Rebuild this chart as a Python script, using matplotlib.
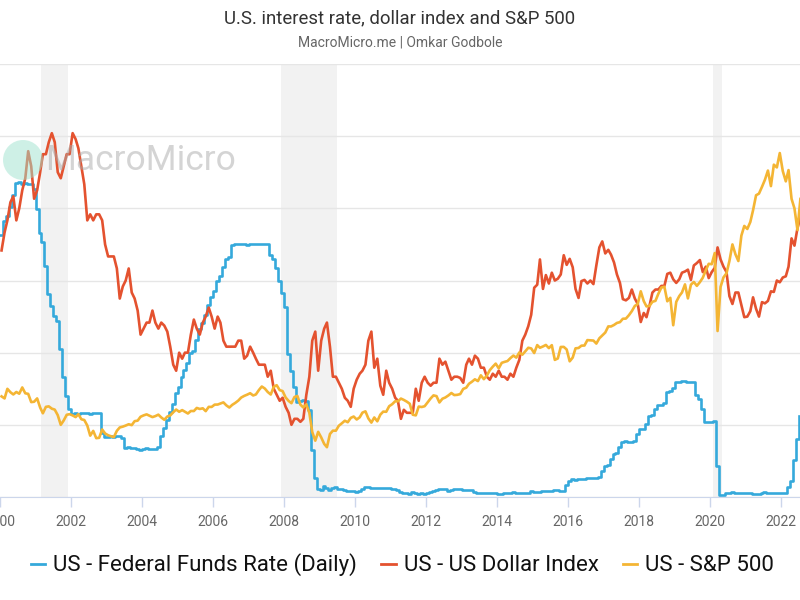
import pandas as pd
import matplotlib.pyplot as plt
import matplotlib.dates as mdates
from matplotlib.patches import Ellipse
from matplotlib.lines import Line2D

fed_color = '#35a9db'
dxy_color = '#e4522f'
spx_color = '#f4b534'
grid_color = '#e6e6e6'

# monthly values, Jan 2000 .. Jul 2022
fed_rate = [
    5.45, 5.73, 5.85, 6.02, 6.27, 6.53, 6.54, 6.50, 6.52, 6.51, 6.51, 6.40,
    5.98, 5.49, 5.31, 4.80, 4.21, 3.97, 3.77, 3.65, 3.07, 2.49, 2.09, 1.82,
    1.73, 1.74, 1.73, 1.75, 1.75, 1.75, 1.73, 1.74, 1.75, 1.75, 1.34, 1.24,
    1.24, 1.26, 1.25, 1.26, 1.26, 1.22, 1.01, 1.03, 1.01, 1.01, 1.00, 0.98,
    1.00, 1.01, 1.00, 1.00, 1.00, 1.03, 1.26, 1.43, 1.61, 1.76, 1.93, 2.16,
    2.28, 2.50, 2.63, 2.79, 3.00, 3.04, 3.26, 3.50, 3.62, 3.78, 4.00, 4.16,
    4.29, 4.49, 4.59, 4.79, 4.94, 4.99, 5.24, 5.25, 5.25, 5.25, 5.25, 5.24,
    5.25, 5.26, 5.26, 5.25, 5.25, 5.25, 5.26, 5.02, 4.94, 4.76, 4.49, 4.24,
    3.94, 2.98, 2.61, 2.28, 1.98, 2.00, 2.01, 2.00, 1.81, 0.97, 0.39, 0.16,
    0.15, 0.22, 0.18, 0.15, 0.18, 0.21, 0.16, 0.16, 0.15, 0.12, 0.12, 0.12,
    0.11, 0.13, 0.16, 0.20, 0.20, 0.18, 0.18, 0.19, 0.19, 0.19, 0.19, 0.18,
    0.17, 0.16, 0.14, 0.10, 0.09, 0.09, 0.07, 0.10, 0.08, 0.07, 0.08, 0.07,
    0.08, 0.10, 0.13, 0.14, 0.16, 0.16, 0.16, 0.13, 0.14, 0.16, 0.16, 0.16,
    0.14, 0.15, 0.14, 0.15, 0.11, 0.09, 0.09, 0.08, 0.08, 0.09, 0.08, 0.09,
    0.07, 0.07, 0.08, 0.09, 0.09, 0.10, 0.09, 0.09, 0.09, 0.09, 0.09, 0.12,
    0.11, 0.11, 0.11, 0.12, 0.12, 0.13, 0.13, 0.14, 0.14, 0.12, 0.12, 0.24,
    0.34, 0.38, 0.36, 0.37, 0.37, 0.38, 0.39, 0.40, 0.40, 0.40, 0.41, 0.54,
    0.65, 0.66, 0.79, 0.90, 0.91, 1.04, 1.15, 1.16, 1.15, 1.15, 1.16, 1.30,
    1.41, 1.42, 1.51, 1.69, 1.70, 1.82, 1.91, 1.91, 1.95, 2.19, 2.20, 2.27,
    2.40, 2.40, 2.41, 2.42, 2.39, 2.38, 2.40, 2.13, 2.04, 1.83, 1.55, 1.55,
    1.55, 1.58, 0.65, 0.05, 0.05, 0.08, 0.09, 0.10, 0.09, 0.09, 0.09, 0.09,
    0.09, 0.08, 0.07, 0.07, 0.06, 0.08, 0.10, 0.09, 0.08, 0.08, 0.08, 0.08,
    0.08, 0.08, 0.20, 0.33, 0.77, 1.21, 1.68,
]

dollar_index = [
    101.0, 104.0, 106.0, 109.0, 110.0, 106.0, 108.0, 111.0, 113.0, 117.5, 115.0, 109.6,
    111.0, 114.0, 117.0, 117.0, 119.0, 120.5, 119.0, 114.0, 113.0, 115.0, 117.0, 117.0,
    120.5, 119.5, 118.0, 115.0, 112.0, 106.0, 107.0, 106.0, 107.0, 107.0, 106.0, 102.0,
    100.0, 100.0, 100.0, 98.0, 93.0, 95.0, 96.0, 98.0, 94.0, 93.0, 91.0, 87.0,
    88.0, 89.0, 89.0, 91.0, 89.0, 88.0, 89.0, 88.5, 87.5, 85.0, 82.0, 81.0,
    84.0, 83.0, 84.0, 84.0, 87.0, 89.5, 88.0, 87.0, 89.0, 90.0, 91.5, 90.0,
    88.0, 90.0, 89.0, 86.0, 85.0, 85.0, 85.0, 85.0, 86.0, 86.0, 83.0, 83.5,
    85.0, 84.0, 83.0, 82.0, 82.0, 82.0, 80.0, 81.0, 78.0, 77.0, 76.0, 76.5,
    75.0, 74.0, 72.0, 73.0, 73.0, 72.5, 73.0, 77.0, 80.0, 86.0, 87.5, 81.0,
    86.0, 88.0, 89.0, 85.0, 80.0, 80.0, 79.0, 78.0, 76.5, 76.0, 75.0, 78.0,
    79.5, 80.5, 81.0, 82.0, 86.0, 87.5, 81.5, 83.0, 78.5, 77.0, 81.0, 79.0,
    78.0, 76.5, 76.0, 73.0, 74.5, 74.0, 74.0, 74.0, 78.0, 76.0, 79.0, 80.0,
    79.0, 78.5, 79.0, 79.0, 83.0, 82.0, 82.5, 81.0, 79.5, 80.0, 80.0, 79.8,
    79.0, 82.0, 83.0, 82.0, 83.5, 83.0, 81.5, 81.5, 80.0, 79.5, 80.5, 80.0,
    81.0, 80.0, 80.0, 79.5, 80.5, 80.0, 81.5, 82.8, 86.0, 87.0, 88.4, 90.3,
    94.8, 95.3, 99.5, 94.6, 96.9, 95.5, 97.3, 96.0, 96.3, 97.0, 100.2, 98.6,
    99.6, 98.2, 94.6, 93.1, 95.9, 96.1, 95.5, 96.0, 95.4, 98.5, 101.5, 102.5,
    100.5, 101.1, 100.3, 99.0, 97.0, 95.6, 92.9, 92.7, 93.1, 94.5, 93.0, 92.1,
    89.1, 90.6, 89.9, 91.8, 94.0, 94.5, 94.5, 95.1, 95.1, 97.1, 97.3, 96.2,
    95.6, 96.2, 97.3, 97.5, 97.8, 96.1, 98.5, 98.9, 99.4, 97.4, 98.3, 96.4,
    97.4, 98.1, 101.5, 99.5, 98.3, 97.4, 93.4, 92.1, 94.0, 94.0, 91.9, 89.9,
    90.0, 90.9, 93.2, 91.3, 90.0, 92.4, 92.2, 92.6, 94.2, 94.1, 96.0, 95.7,
    96.5, 96.7, 98.3, 103.0, 101.8, 104.7, 106.5,
]

sp500 = [
    1394, 1366, 1499, 1452, 1421, 1455, 1431, 1518, 1437, 1429, 1315, 1320,
    1366, 1240, 1160, 1249, 1256, 1224, 1211, 1134, 1000, 1060, 1139, 1148,
    1130, 1107, 1147, 1077, 1067, 990, 850, 916, 815, 820, 936, 880,
    856, 841, 830, 917, 964, 975, 990, 1008, 996, 1051, 1058, 1112,
    1131, 1145, 1126, 1107, 1121, 1141, 1102, 1070, 1115, 1130, 1174, 1212,
    1181, 1204, 1181, 1157, 1192, 1191, 1234, 1220, 1229, 1190, 1249, 1248,
    1280, 1281, 1295, 1311, 1270, 1240, 1277, 1304, 1336, 1378, 1401, 1418,
    1438, 1407, 1421, 1482, 1531, 1503, 1455, 1420, 1527, 1549, 1481, 1468,
    1379, 1331, 1300, 1386, 1400, 1280, 1240, 1283, 1166, 900, 780, 903,
    826, 735, 690, 873, 919, 919, 987, 1021, 1057, 1036, 1096, 1115,
    1074, 1104, 1169, 1187, 1089, 1031, 1102, 1049, 1141, 1183, 1181, 1258,
    1286, 1327, 1326, 1364, 1345, 1321, 1292, 1140, 1131, 1253, 1247, 1258,
    1312, 1366, 1408, 1398, 1310, 1362, 1379, 1407, 1441, 1412, 1416, 1426,
    1498, 1515, 1569, 1598, 1631, 1606, 1686, 1633, 1682, 1757, 1806, 1848,
    1783, 1859, 1872, 1884, 1924, 1960, 1931, 2003, 1972, 2018, 2068, 2059,
    1995, 2105, 2068, 2086, 2107, 2063, 2104, 1900, 1920, 2079, 2080, 2044,
    1880, 1932, 2060, 2065, 2097, 2099, 2174, 2171, 2168, 2126, 2199, 2239,
    2279, 2364, 2363, 2384, 2412, 2423, 2470, 2472, 2519, 2575, 2648, 2674,
    2850, 2714, 2641, 2648, 2705, 2718, 2816, 2902, 2914, 2712, 2760, 2380,
    2704, 2784, 2834, 2946, 2752, 2942, 2980, 2926, 2977, 3038, 3141, 3231,
    3226, 3380, 2300, 2912, 3044, 3100, 3271, 3500, 3363, 3270, 3622, 3756,
    3714, 3811, 3973, 4181, 4204, 4298, 4395, 4523, 4308, 4605, 4567, 4766,
    4516, 4374, 4530, 4132, 4000, 3700, 4130,
]

recessions = [('2001-03-01', '2001-11-30'), ('2007-12-01', '2009-06-30'), ('2020-02-01', '2020-04-30')]

fed_dates = pd.date_range('2000-01-01', periods=len(fed_rate), freq='MS')
mid_dates = pd.date_range('2000-01-01', periods=len(sp500), freq='MS') + pd.Timedelta(days=15)

fig = plt.figure(figsize=(8, 6), dpi=100)
plt.rcParams['font.family'] = ['Roboto', 'DejaVu Sans']
ax = fig.add_axes([0.0, 103 / 600, 1.0, 433 / 600])
ax_dxy = ax.twinx()
ax_spx = ax.twinx()

for start, end in recessions:
    ax.axvspan(pd.Timestamp(start), pd.Timestamp(end), color='#f2f2f2', lw=0, zorder=0)

ax.step(fed_dates, fed_rate, where='post', color=fed_color, lw=1.9, zorder=3)
ax_dxy.plot(mid_dates, dollar_index, color=dxy_color, lw=1.9)
ax_spx.plot(mid_dates, sp500, color=spx_color, lw=1.9)

ax.set_ylim(0, 9)
ax.set_yticks([0, 1.5, 3, 4.5, 6, 7.5, 9])
ax.grid(axis='y', color=grid_color, lw=1)
ax.set_axisbelow(True)
ax_dxy.set_ylim(60, 132)
ax_spx.set_ylim(0, 6000)

ax.set_xlim(pd.Timestamp('1999-12-31'), pd.Timestamp('2022-07-12'))
ax.xaxis.set_major_locator(mdates.YearLocator(2))
ax.xaxis.set_major_formatter(mdates.DateFormatter('%Y'))
ax.tick_params(axis='x', colors='#ccd6eb', length=7, width=1, labelcolor='#666666', labelsize=10, pad=6)
ax.tick_params(axis='y', left=False, labelleft=False)

for a in (ax, ax_dxy, ax_spx):
    for side in ('top', 'left', 'right'):
        a.spines[side].set_visible(False)
for a in (ax_dxy, ax_spx):
    a.spines['bottom'].set_visible(False)
    a.tick_params(axis='y', right=False, labelright=False)
ax.spines['bottom'].set_color('#ccd6eb')

# watermark on top
fig.add_artist(Ellipse((23 / 800, 1 - 160 / 600), 40 / 800, 40 / 600, transform=fig.transFigure,
                       color='#9fe3cf', alpha=0.5, lw=0, zorder=10))
fig.text(45 / 800, 1 - 161 / 600, 'MacroMicro', fontsize=25.5, color='#aaaaaa', alpha=0.5,
         va='center', ha='left', zorder=10)

fig.text(0.5, 1 - 18 / 600, 'U.S. interest rate, dollar index and S&P 500', ha='center', va='center',
         fontsize=13.4, color='#333333')
fig.text(0.5, 1 - 43 / 600, 'MacroMicro.me | Omkar Godbole', ha='center', va='center',
         fontsize=10, color='#666666')

handles = [Line2D([], [], color=fed_color, lw=2),
           Line2D([], [], color=dxy_color, lw=2),
           Line2D([], [], color=spx_color, lw=2)]
labels = ['US - Federal Funds Rate (Daily)', 'US - US Dollar Index', 'US - S&P 500']
fig.legend(handles, labels, loc='center', bbox_to_anchor=(0.503, 1 - 565 / 600), ncol=3, frameon=False,
           fontsize=16, handlelength=0.65, handletextpad=0.35, columnspacing=1.1, labelcolor='#111111')

fig.savefig('out.png', dpi=100)
